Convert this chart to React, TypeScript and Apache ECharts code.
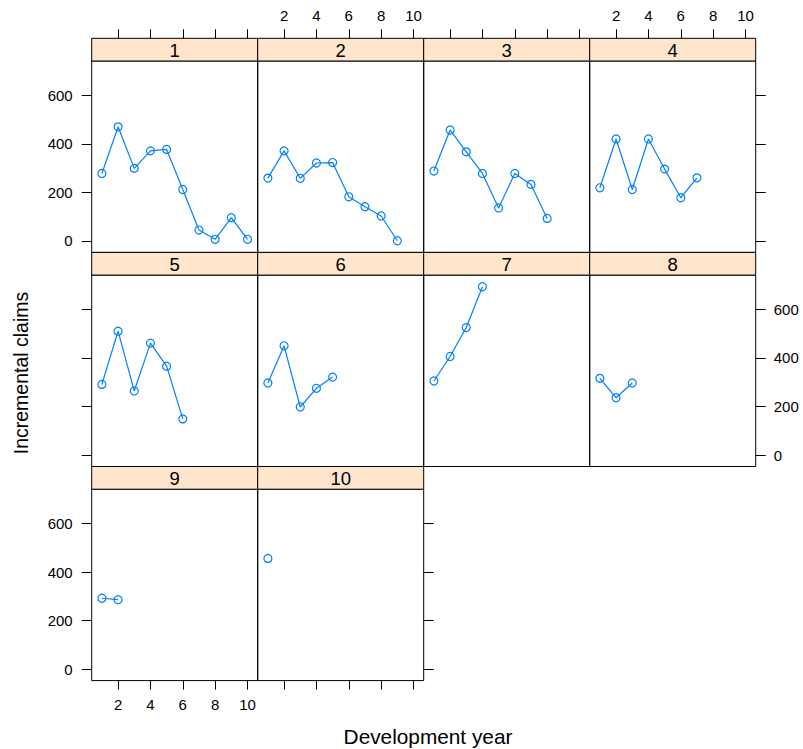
import React, { useEffect, useRef } from "react";
import * as echarts from "echarts";

const origins = ["1", "2", "3", "4", "5", "6", "7", "8", "9", "10"];
const claims1 = [278, 470, 299, 371, 377, 212, 45, 7, 96, 7];
const claims2 = [259, 371, 258, 321, 323, 182, 141, 103, 1];
const claims3 = [288, 457, 367, 278, 136, 278, 233, 93];
const claims4 = [219, 420, 212, 420, 296, 178, 260];
const claims5 = [291, 510, 264, 461, 366, 149];
const claims6 = [297, 450, 198, 275, 321];
const claims7 = [305, 406, 525, 693];
const claims8 = [316, 236, 297];
const claims9 = [292, 286];
const claims10 = [456];
const allClaims = [claims1, claims2, claims3, claims4, claims5, claims6, claims7, claims8, claims9, claims10];

const xTicks = [2, 4, 6, 8, 10];
const yTicks = [0, 200, 400, 600];
const xRange = [0.37, 10.63];
const yRange = [-47, 741];

const FONT = "Liberation Sans, Arial, Helvetica, sans-serif";

export default function App() {
  const ref = useRef<HTMLDivElement>(null);
  useEffect(() => {
    document.body.style.margin = "0";
    const chart = echarts.init(ref.current!, null, { renderer: "svg" });
    const L = 91.7, PW = 166, T0 = 38.3, SH = 22.7, PH = 191.4, RH = SH + PH;
    const grids: any[] = [];
    const xAxes: any[] = [];
    const yAxes: any[] = [];
    const series: any[] = [];
    const graphics: any[] = [];
    const tickLen = 9;
    allClaims.forEach((vals, i) => {
      const col = i % 4;
      const row = Math.floor(i / 4);
      const left = L + col * PW;
      const stripTop = T0 + row * RH;
      const top = stripTop + SH;
      grids.push({
        left, top, width: PW, height: PH,
        show: true, borderColor: "#000", borderWidth: 1, backgroundColor: "transparent",
        containLabel: false, outerBoundsMode: "none",
      });
      const xShowTicks = row === 0 || row === 2;
      const xShowLabels = (row === 0 && (col === 1 || col === 3)) || (row === 2 && col === 0);
      xAxes.push({
        type: "value", gridIndex: i, min: xRange[0], max: xRange[1],
        position: row === 0 ? "top" : "bottom",
        offset: row === 0 ? SH : 0,
        axisLine: { show: false, onZero: false },
        splitLine: { show: false },
        axisTick: { show: xShowTicks, inside: false, length: tickLen, customValues: xTicks, lineStyle: { color: "#000", width: 1 } },
        axisLabel: { show: xShowLabels, customValues: xTicks, margin: row === 0 ? 15 : 16, color: "#000", fontSize: 15, fontFamily: FONT },
      });
      let yPos = "left", yTicksShow = false, yLabels = false;
      if (i === 0 || i === 8) { yPos = "left"; yTicksShow = true; yLabels = true; }
      if (i === 4) { yPos = "left"; yTicksShow = true; }
      if (i === 3 || i === 9) { yPos = "right"; yTicksShow = true; }
      if (i === 7) { yPos = "right"; yTicksShow = true; yLabels = true; }
      yAxes.push({
        type: "value", gridIndex: i, min: yRange[0], max: yRange[1], position: yPos,
        axisLine: { show: false, onZero: false },
        splitLine: { show: false },
        axisTick: { show: yTicksShow, inside: false, length: tickLen + 1, customValues: yTicks, lineStyle: { color: "#000", width: 1 } },
        axisLabel: { show: yLabels, customValues: yTicks, margin: yPos === "left" ? 19 : 18, color: "#000", fontSize: 15, fontFamily: FONT },
      });
      series.push({
        type: "line", xAxisIndex: i, yAxisIndex: i,
        data: vals.map((v, j) => [j + 1, v]),
        symbol: "circle", symbolSize: 8, showSymbol: true, showAllSymbol: true,
        itemStyle: { color: "rgba(0,0,0,0)", borderColor: "#0080ff", borderWidth: 1.2 },
        lineStyle: { color: "#0080ff", width: 1.2 },
        emphasis: { disabled: true }, silent: true, clip: false,
      });
      graphics.push({
        type: "rect", shape: { x: left, y: stripTop, width: PW, height: SH },
        style: { fill: "#FFE5CC", stroke: "#000", lineWidth: 1 }, silent: true,
      });
      graphics.push({
        type: "text", x: left + PW / 2, y: stripTop + SH / 2 + 0.5,
        style: { text: origins[i], align: "center", verticalAlign: "middle", fontSize: 18.5, fontFamily: FONT, fill: "#000" },
        silent: true,
      });
    });
    graphics.push({
      type: "text", x: 20.5, y: 373, rotation: Math.PI / 2,
      style: { text: "Incremental claims", align: "center", verticalAlign: "middle", fontSize: 19.5, fontFamily: FONT, fill: "#000" },
      silent: true,
    });
    graphics.push({
      type: "text", x: 428, y: 736,
      style: { text: "Development year", align: "center", verticalAlign: "middle", fontSize: 20.8, fontFamily: FONT, fill: "#000" },
      silent: true,
    });
    chart.setOption({
      animation: false,
      backgroundColor: "#fff",
      grid: grids,
      xAxis: xAxes,
      yAxis: yAxes,
      series,
      graphic: graphics,
    });
    return () => chart.dispose();
  }, []);
  return <div ref={ref} style={{ width: 803, height: 749 }} />;
}
